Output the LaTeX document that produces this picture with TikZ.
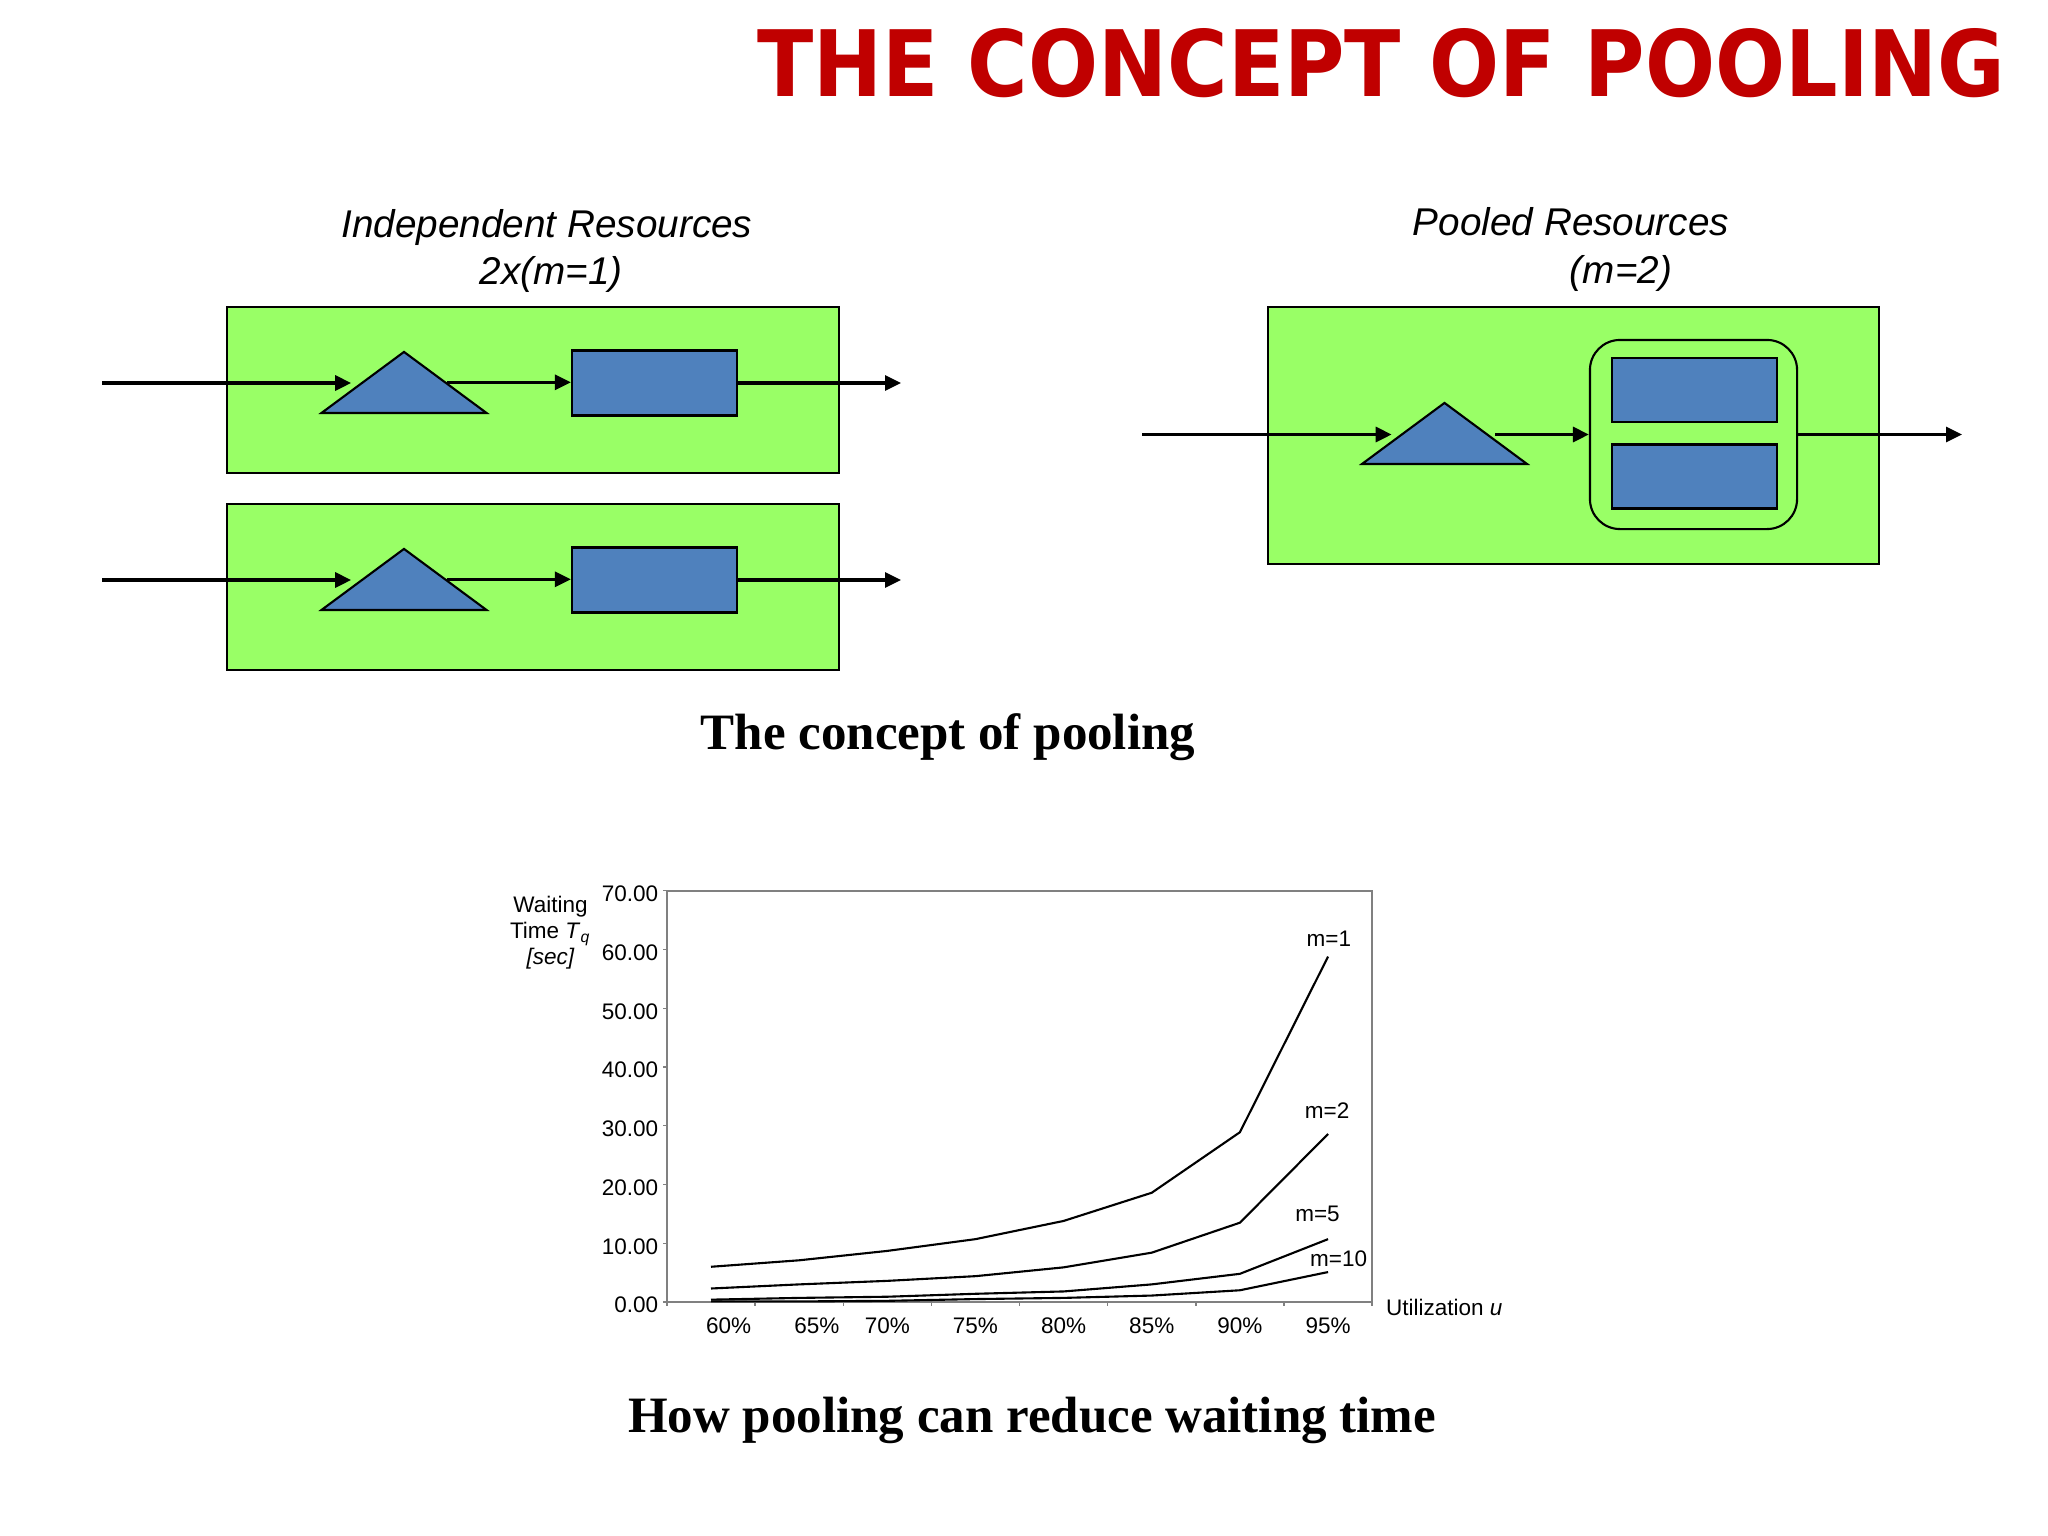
\documentclass[tikz,border=0pt]{standalone}
\usepackage{graphicx}
\usepackage{fontspec}
\setmainfont{Liberation Serif}
\setsansfont{Liberation Sans}
\newfontfamily\titlefont{DejaVu Sans}
\usetikzlibrary{arrows.meta, shapes.geometric}
\definecolor{boxgreen}{RGB}{153,255,102}
\definecolor{srvblue}{RGB}{79,129,189}
\definecolor{titlered}{RGB}{192,0,0}
\tikzset{every picture/.style={x=0.01cm,y=-0.01cm},
  panel/.style={draw, fill=boxgreen, line width=0.6pt, inner sep=0},
  server/.style={draw, fill=srvblue, line width=0.6pt, inner sep=0, minimum width=1.65cm, minimum height=0.65cm},
  queue/.style={draw, fill=srvblue, line width=0.6pt, isosceles triangle, isosceles triangle apex angle=107,
    shape border rotate=90, minimum width=0.61cm, minimum height=0.61cm, inner sep=0, anchor=lower side},
  flow/.style={-{Triangle[length=0.16cm,width=0.15cm]}, line width=0.9pt},
  head/.style={font=\sffamily\itshape\fontsize{11}{13}\selectfont, inner sep=0, anchor=base},
  caption/.style={font=\bfseries\fontsize{14.5}{16}\selectfont, inner sep=0, anchor=base},
  chart/.style={font=\sffamily\fontsize{6.4}{7.4}\selectfont, inner sep=0, text=black},
  curve/.style={line width=0.6pt, line join=round}}

\begin{document}
\begin{tikzpicture}
  \useasboundingbox (0,0) rectangle (2048,1536);

  \node[anchor=base west, inner sep=0, text=titlered] (title) at (757,96)
    {\resizebox{12.47cm}{0.68cm}{\titlefont\bfseries THE CONCEPT OF POOLING}};

  % independent resources
  \node[head] (h1) at (547,237) {Independent Resources};
  \node[head] (h2) at (551,284) {2x(m=1)};
  \node[panel, minimum width=6.12cm, minimum height=1.66cm] (p1) at (533,390) {};
  \node[panel, minimum width=6.12cm, minimum height=1.66cm] (p2) at (533,587) {};
  \node[queue] (q1) at (404,414) {};
  \node[queue] (q2) at (404,611) {};
  \node[server] (s1) at (654.5,383) {};
  \node[server] (s2) at (654.5,580) {};
  \coordinate (a1) at (102,383);
  \coordinate (a2) at (102,580);
  \coordinate (o1) at (901,383);
  \coordinate (o2) at (901,580);

  \draw[flow, shorten >=0.1cm] (a1) -- (a1 -| q1.left side);
  \draw[flow] (q1.right side) -- (q1.right side -| s1.west);
  \draw[flow] (s1.east) -- (o1);
  \draw[flow, shorten >=0.1cm] (a2) -- (a2 -| q2.left side);
  \draw[flow] (q2.right side) -- (q2.right side -| s2.west);
  \draw[flow] (s2.east) -- (o2);

  % pooled resources
  \node[head] (h3) at (1571,235) {Pooled Resources};
  \node[head] (h4) at (1621,283) {(m=2)};
  \node[panel, minimum width=6.11cm, minimum height=2.57cm] (p3) at (1573.5,435.5) {};
  \node[queue] (q3) at (1444.5,465) {};
  \node[draw, line width=0.6pt, rounded corners=0.3cm, minimum width=2.07cm, minimum height=1.89cm] (pool) at (1693.5,434.5) {};
  \node[server, minimum height=0.64cm] (s3) at (1694.5,390) {};
  \node[server, minimum height=0.64cm] (s4) at (1694.5,476.5) {};
  \coordinate (a3) at (1142,434.5);
  \coordinate (o3) at (1962,434.5);

  \draw[flow, shorten >=0.1cm] (a3) -- (a3 -| q3.left side);
  \draw[flow, shorten <=0.08cm] (a3 -| q3.right side) -- (pool.west);
  \draw[flow] (pool.east) -- (o3);

  \node[caption] (c1) at (948,749) {The concept of pooling};

  % waiting time chart
  \begin{scope}[shift={(711,1302)}, x=0.881cm, y=0.05871cm]
    \draw[gray, line width=0.6pt] (-0.5,0) rectangle (7.5,70);
    \foreach \v in {0,10,...,70}
      \draw[gray] (-0.5,\v) -- ++(-0.05,0) node[chart, anchor=east, xshift=-0.036cm, yshift=-0.03cm] {\v.00};
    \foreach \i in {0,...,8}
      \draw[gray] (\i-0.5,0) -- ++(0,-0.7);
    \foreach \p/\x in {60/0.2, 65/1.2, 70/2, 75/3, 80/4, 85/5, 90/6, 95/7}
      \node[chart] at (\x,-4.1) {\p\%};

    \draw[curve] plot coordinates {(0,6.0) (1,7.1) (2,8.7) (3,10.7) (4,13.8) (5,18.6) (6,28.9) (7,58.8)};
    \draw[curve] plot coordinates {(0,2.3) (1,3.0) (2,3.6) (3,4.4) (4,5.9) (5,8.4) (6,13.5) (7,28.6)};
    \draw[curve] plot coordinates {(0,0.4) (1,0.7) (2,0.9) (3,1.4) (4,1.8) (5,3.0) (6,4.8) (7,10.7)};
    \draw[curve] plot coordinates {(0,0.1) (1,0.1) (2,0.2) (3,0.5) (4,0.7) (5,1.1) (6,2.0) (7,5.1)};

    \node[chart] (m1) at (7.01,61.8) {m=1};
    \node[chart] (m2) at (6.99,32.5) {m=2};
    \node[chart] (m5) at (6.88,15.0) {m=5};
    \node[chart] (m10) at (7.12,7.3) {m=10};

    \node[chart, align=center] (ylab) at (-1.82,62.85)
      {Waiting\\Time \textit{T}\textsubscript{\textit{q}}\\\textit{[sec]}};
    \node[chart, anchor=west] (xlab) at (7.65,-0.85) {Utilization \textit{u}};
  \end{scope}

  \node[caption] (c2) at (1032,1432) {How pooling can reduce waiting time};
\end{tikzpicture}
\end{document}
